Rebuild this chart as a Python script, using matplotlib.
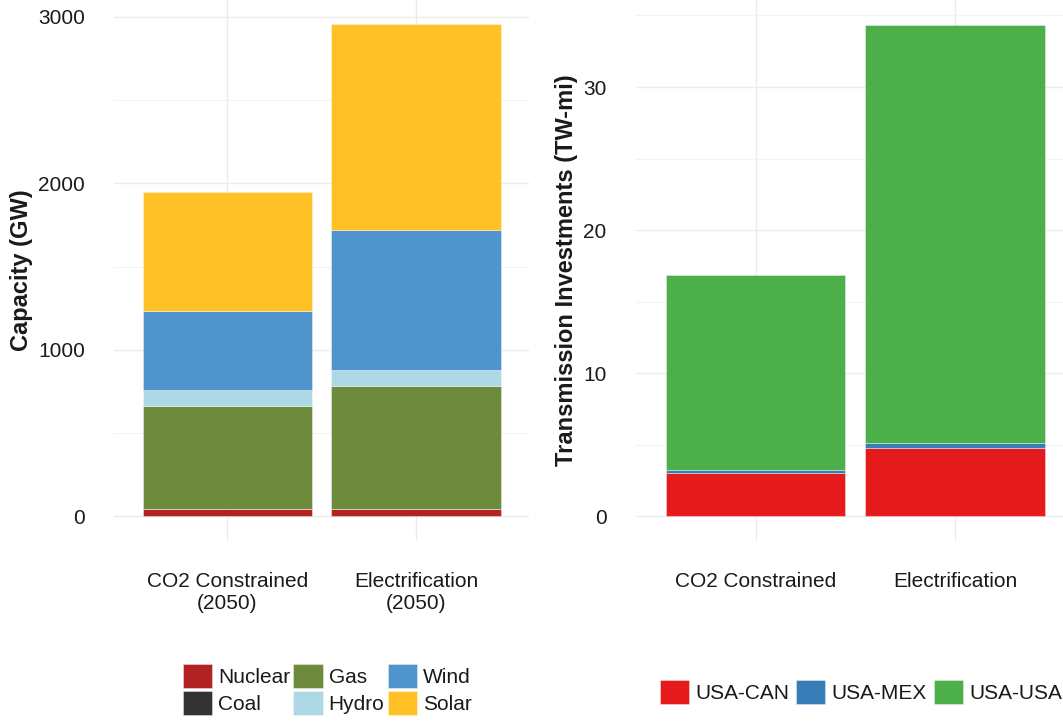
import matplotlib
matplotlib.use("Agg")
import matplotlib.pyplot as plt
import numpy as np
from matplotlib.patches import Patch

plt.rcParams['font.family'] = ['Liberation Sans', 'DejaVu Sans']

# ---- data ----
cap_scenarios = ["CO2 Constrained\n(2050)", "Electrification\n(2050)"]
cap_techs = ["Nuclear", "Coal", "Gas", "Hydro", "Wind", "Solar"]
nuclear = [45, 45]
coal = [0, 0]
gas = [620, 740]
hydro = [94, 96]
wind = [476, 836]
solar = [711, 1236]
cap_colors = ["#B22222", "#333333", "#6E8B3D", "#ADD8E6", "#4F94CD", "#FFC125"]

tx_scenarios = ["CO2 Constrained", "Electrification"]
tx_series = ["USA-CAN", "USA-MEX", "USA-USA"]
usa_can = [3.0, 4.8]
usa_mex = [0.25, 0.35]
usa_usa = [13.65, 29.2]
tx_colors = ["#E41A1C", "#377EB8", "#4DAF4A"]

W, H = 1063, 727
fig = plt.figure(figsize=(W / 100, H / 100), dpi=100)

tick_fs = 15
lab_fs = 17
txt_color = "#1a1a1a"
grid_major = "#ebebeb"
grid_minor = "#f3f3f3"


def style_axes(ax, minor_ticks):
    for s in ax.spines.values():
        s.set_visible(False)
    ax.set_axisbelow(True)
    ax.tick_params(axis="both", length=0, labelsize=tick_fs, labelcolor=txt_color)
    ax.tick_params(axis="y", pad=21)
    ax.tick_params(axis="x", pad=22)
    ax.set_yticks(minor_ticks, minor=True)
    ax.tick_params(axis="y", which="minor", length=0)
    ax.grid(True, which="major", color=grid_major, linewidth=1.0)
    ax.grid(True, which="minor", axis="y", color=grid_minor, linewidth=0.8)


# ---- left panel ----
ax1 = fig.add_axes([114.4 / W, 1 - 541 / H, (529 - 114.4) / W, 541 / H])
x1 = np.arange(len(cap_scenarios))
bottom = np.zeros(len(cap_scenarios))
for vals, col, name in zip([nuclear, coal, gas, hydro, wind, solar], cap_colors, cap_techs):
    ax1.bar(x1, vals, width=0.9, bottom=bottom, color=col, edgecolor=(1, 1, 1, 0.45),
            linewidth=0.6, label=name)
    bottom += np.array(vals)
ax1.set_xlim(-0.6, 1.6)
ax1.set_ylim(-148, 3100)
ax1.set_xticks(x1)
ax1.set_xticklabels(cap_scenarios, linespacing=1.25)
ax1.set_yticks([0, 1000, 2000, 3000])
style_axes(ax1, [500, 1500, 2500])
ax1.set_ylabel("Capacity (GW)", fontsize=lab_fs, fontweight="bold", color=txt_color, va="center")
ax1.yaxis.set_label_coords((22 - 114.4) / (529 - 114.4), 0.5)

# ---- right panel ----
ax2 = fig.add_axes([635.8 / W, 1 - 541 / H, (1074.7 - 635.8) / W, 541 / H])
x2 = np.arange(len(tx_scenarios))
bottom = np.zeros(len(tx_scenarios))
for vals, col, name in zip([usa_can, usa_mex, usa_usa], tx_colors, tx_series):
    ax2.bar(x2, vals, width=0.9, bottom=bottom, color=col, edgecolor=(1, 1, 1, 0.45),
            linewidth=0.6, label=name)
    bottom += np.array(vals)
ax2.set_xlim(-0.6, 1.6)
ax2.set_ylim(-1.72, 36.08)
ax2.set_xticks(x2)
ax2.set_xticklabels(tx_scenarios)
ax2.set_yticks([0, 10, 20, 30])
style_axes(ax2, [5, 15, 25, 35])
ax2.set_ylabel("Transmission Investments (TW-mi)", fontsize=lab_fs, fontweight="bold",
               color=txt_color, va="center")
ax2.yaxis.set_label_coords((566 - 635.8) / (1074.7 - 635.8), 0.5)

# ---- legends ----
h1 = [Patch(facecolor=c, edgecolor=(1, 1, 1, 0.45), linewidth=0.6) for c in cap_colors]
fig.legend(h1, cap_techs, ncol=3, loc="upper left", bbox_to_anchor=(183 / W, 1 - 664 / H),
           frameon=False, fontsize=tick_fs, handlelength=1.4, handleheight=1.4,
           handletextpad=0.29, columnspacing=0.15, labelspacing=0.15, borderpad=0,
           borderaxespad=0, labelcolor=txt_color)

h2 = [Patch(facecolor=c, edgecolor=(1, 1, 1, 0.45), linewidth=0.6) for c in tx_colors]
fig.legend(h2, tx_series, ncol=3, loc="upper left", bbox_to_anchor=(660 / W, 1 - 680 / H),
           frameon=False, fontsize=tick_fs, handlelength=1.4, handleheight=1.4,
           handletextpad=0.29, columnspacing=0.34, borderpad=0, borderaxespad=0,
           labelcolor=txt_color)

fig.savefig("out.png", dpi=100)
